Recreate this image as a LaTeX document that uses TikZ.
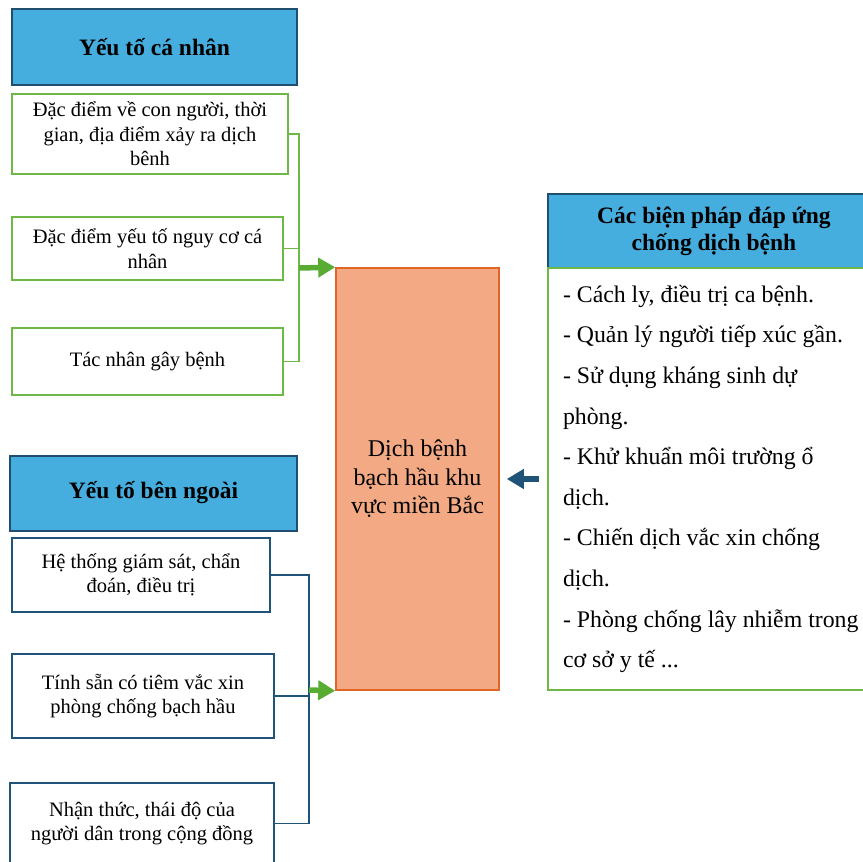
\documentclass[tikz,border=0pt]{standalone}
\usepackage{fontspec}
\setmainfont{Liberation Serif}
\usepackage{tikz}
\usetikzlibrary{arrows.meta}
\usetikzlibrary{positioning}
\definecolor{hdrblue}{RGB}{70,174,222}
\definecolor{hdrline}{RGB}{31,78,110}
\definecolor{boxgreen}{RGB}{110,184,72}
\definecolor{arrgreen}{RGB}{88,172,50}
\definecolor{navyline}{RGB}{31,84,120}
\definecolor{salmon}{RGB}{243,170,132}
\definecolor{rust}{RGB}{224,102,40}
\tikzset{hdr/.style={draw=hdrline,fill=hdrblue,line width=2pt,font=\fontsize{23.5}{27}\selectfont\bfseries,align=center,inner sep=0pt},
gbox/.style={draw=boxgreen,line width=1.6pt,font=\fontsize{20.5}{24.5}\selectfont,align=center,inner sep=0pt},
nbox/.style={draw=navyline,line width=1.6pt,font=\fontsize{20.5}{24.5}\selectfont,align=center,inner sep=0pt},
garrow/.style={draw=arrgreen,line width=5.5pt,-{Triangle[length=17pt,width=19pt]}},
barrow/.style={draw=navyline,line width=5.5pt,-{Triangle[length=17pt,width=19pt]}}}
\begin{document}
\begin{tikzpicture}[x=1pt,y=-1pt]
\useasboundingbox (0,0) rectangle (863,862);
% left column, personal factors
\node[hdr,minimum width=285pt,minimum height=76pt] (canhan) at (154.5,47) {Yếu tố cá nhân};
\node[gbox,minimum width=276pt,minimum height=80pt] (a1) at (150,134) {Đặc điểm về con người, thời\\gian, địa điểm xảy ra dịch\\bênh};
\node[gbox,minimum width=271pt,minimum height=63pt] (a2) at (147.5,248.5) {Đặc điểm yếu tố nguy cơ cá\\nhân};
\node[gbox,minimum width=271pt,minimum height=67pt] (a3) at (147.5,361.5) {Tác nhân gây bệnh};
% left column, outside factors
\node[hdr,minimum width=287pt,minimum height=75pt] (benngoai) at (153.5,493) {Yếu tố bên ngoài};
\node[nbox,minimum width=258pt,minimum height=74pt] (b1) at (141,575) {Hệ thống giám sát, chẩn\\đoán, điều trị};
\node[nbox,minimum width=262pt,minimum height=84pt] (b2) at (143,696) {Tính sẵn có tiêm vắc xin\\phòng chống bạch hầu};
\node[nbox,minimum width=264pt,minimum height=81pt] (b3) at (142,823.5) {Nhận thức, thái độ của\\người dân trong cộng đồng};
% middle
\node[draw=rust,fill=salmon,line width=1.6pt,minimum width=163pt,minimum height=422pt,inner sep=0pt,align=center,font=\fontsize{24}{28.5}\selectfont] (dich) at (417.5,479) {Dịch bệnh\\bạch hầu khu\\vực miền Bắc};
% right column
\node[hdr,minimum width=332pt,minimum height=74pt] (bienphap) at (714,231) {Các biện pháp đáp ứng\\chống dịch bệnh};
\node[draw=boxgreen,line width=1.6pt,minimum width=340pt,minimum height=422pt,text width=310pt,inner xsep=15pt,inner ysep=0pt,align=flush left,font=\fontsize{23.8}{40.6}\selectfont] (list) at (718,479) {- Cách ly, điều trị ca bệnh.\\- Quản lý người tiếp xúc gần.\\- Sử dụng kháng sinh dự\\phòng.\\- Khử khuẩn môi trường ổ\\dịch.\\- Chiến dịch vắc xin chống\\dịch.\\- Phòng chống lây nhiễm trong\\cơ sở y tế ...};
% connectors
\coordinate (gbus) at (299,268);
\coordinate (nbus) at (309,690);
\draw[boxgreen,line width=1.6pt] (a1.east) -| (gbus);
\draw[boxgreen,line width=1.6pt] (a3.east) -| (gbus);
\draw[boxgreen,line width=1.6pt] (a2.east) -- (a2.east -| gbus);
\draw[navyline,line width=1.6pt] (b1.east) -| (nbus);
\draw[navyline,line width=1.6pt] (b3.east) -| (nbus);
\draw[navyline,line width=1.6pt] (b2.east) -- (b2.east -| nbus);
\draw[garrow] (gbus) -- (dich.north west);
\draw[garrow] (nbus) -- (dich.south west);
\draw[barrow] ([xshift=-8pt]list.west) -- ([xshift=7pt]dich.east);
\end{tikzpicture}
\end{document}
